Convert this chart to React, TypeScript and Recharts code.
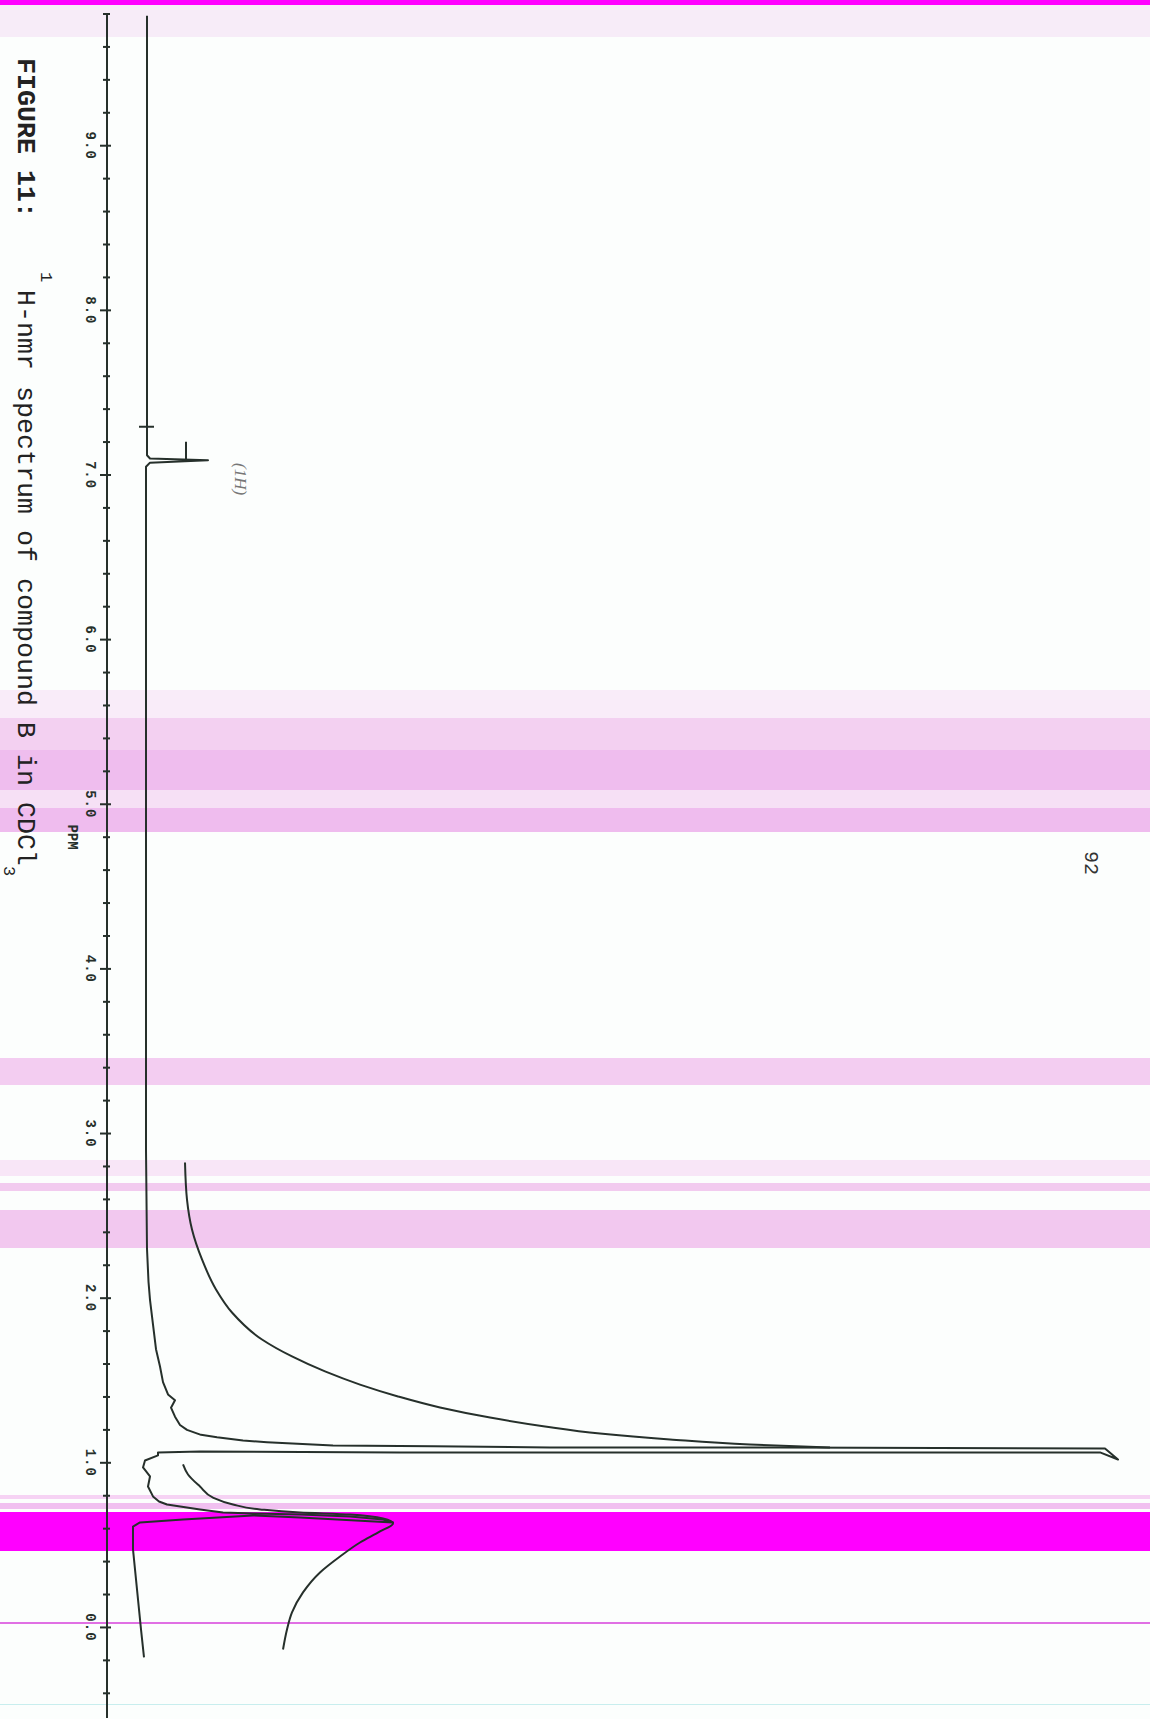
import React from 'react';
import { LineChart, Line, XAxis, YAxis } from 'recharts';

// spectrum traces as [ppm, intensity] pairs (intensity in chart-paper units)
const mainTrace: [number, number][] = [
  [9.79, 0], [7.12, 0], [7.1, 0.3], [7.09, 6.1], [7.075, 0.3], [7.05, -0.1],
  [2.9, -0.1], [2.3, 0], [2.1, 0.15], [1.99, 0.3], [1.89, 0.5], [1.69, 0.9], [1.585, 1.3],
  [1.49, 1.6], [1.415, 2.1], [1.38, 2.8], [1.335, 2.4], [1.28, 2.8], [1.23, 3.3], [1.2, 4.0],
  [1.17, 5.4], [1.155, 7.0], [1.135, 9.6], [1.125, 12.0], [1.105, 18.6], [1.1, 28.6], [1.093, 40.3],
  [1.093, 63.3], [1.087, 95.8], [1.02, 97.1], [1.063, 95.3], [1.063, 65.3],
  [1.063, 25.3], [1.069, 5.3], [1.063, 1.1], [1.045, 1.1], [1.014, -0.2],
  [0.972, -0.4], [0.917, 0.3], [0.856, 0.1], [0.796, 0.6], [0.765, 1.2], [0.747, 2.0],
  [0.717, 5.3], [0.698, 7.6], [0.692, 10.6], [0.686, 15.3], [0.674, 20.3],
  [0.656, 23.6], [0.638, 24.6], [0.668, 15.3], [0.68, 10.6], [0.656, 3.6],
  [0.638, -0.7], [0.613, -1.4], [0.474, -1.4], [0.17, -0.9], [-0.012, -0.6],
  [-0.182, -0.3],
];

const upperIntegral: [number, number][] = [
  [2.824, 3.8], [2.599, 4.0], [2.417, 4.5], [2.235, 5.5], [2.053, 6.9],
  [1.913, 8.5], [1.749, 11.5], [1.646, 14.5], [1.555, 17.8], [1.475, 21.3],
  [1.403, 25.1], [1.336, 29.3], [1.275, 34.3], [1.221, 39.8], [1.178, 45.3],
  [1.142, 52.3], [1.111, 60.3], [1.093, 68.3],
];

const lowerIntegral: [number, number][] = [
  [0.99, 3.6], [0.929, 4.1], [0.856, 5.3], [0.789, 6.6], [0.747, 8.6],
  [0.717, 11.3], [0.698, 15.3], [0.686, 20.3], [0.662, 23.6], [0.632, 24.6],
  [0.583, 23.3], [0.516, 21.3], [0.431, 19.3], [0.334, 17.3], [0.213, 15.6],
  [0.091, 14.5], [-0.012, 14.0], [-0.134, 13.6],
];

// little integral step marks next to the 7 ppm line
const stepMarks: [number, number][][] = [
  [[7.293, -0.8], [7.293, 0.7]],
  [[7.202, 3.9], [7.087, 3.9]],
];

const majorTicks = [9, 8, 7, 6, 5, 4, 3, 2, 1, 0];
const axisTicks = [
  9.8, 9.6, 9.4, 9.2, 9, 8.8, 8.6, 8.4, 8.2, 8, 7.8, 7.6, 7.4, 7.2, 7,
  6.8, 6.6, 6.4, 6.2, 6, 5.8, 5.6, 5.4, 5.2, 5, 4.8, 4.6, 4.4, 4.2, 4,
  3.8, 3.6, 3.4, 3.2, 3, 2.8, 2.6, 2.4, 2.2, 2, 1.8, 1.6, 1.4, 1.2, 1,
  0.8, 0.6, 0.4, 0.2, 0, -0.2, -0.4,
];

const ink = '#26302b';
const mono = '"Liberation Mono", "DejaVu Sans Mono", monospace';

// scan artefacts (page coordinates, after rotation)
const bands = [
  { top: 0, h: 5, c: '#ff00ff' },
  { top: 5, h: 32, c: '#f7ecf8' },
  { top: 690, h: 28, c: '#f9ecf9' },
  { top: 718, h: 32, c: '#f3d0f1' },
  { top: 750, h: 40, c: '#efbdee' },
  { top: 790, h: 18, c: '#f6e0f5' },
  { top: 808, h: 24, c: '#efbcee' },
  { top: 1058, h: 27, c: '#f3cdf1' },
  { top: 1160, h: 16, c: '#f8e6f7' },
  { top: 1183, h: 8, c: '#f2cbef' },
  { top: 1210, h: 38, c: '#f2c8ef' },
  { top: 1495, h: 4, c: '#f6d3f4' },
  { top: 1503, h: 6, c: '#f1c0f0' },
  { top: 1512, h: 39, c: '#ff00ff' },
  { top: 1622, h: 2, c: '#e070e4' },
  { top: 1704, h: 1, c: '#c8eeee' },
];

const toRows = (pts: [number, number][]) => pts.map(([ppm, v]) => ({ ppm, v }));

const PpmTick = (props: any) => {
  const { x, y, payload } = props;
  const v = payload.value as number;
  const major = majorTicks.some((m) => Math.abs(m - v) < 1e-6);
  return (
    <g>
      <line x1={x} x2={x} y1={y - (major ? 4 : 3)} y2={y + (major ? 7 : 4)} stroke={ink} strokeWidth={2} />
      {major && (
        <text x={x} y={y + 21} textAnchor="middle" fontFamily={mono} fontSize={14} fontWeight="bold" fill={ink} letterSpacing={1}>
          {v.toFixed(1)}
        </text>
      )}
    </g>
  );
};

const lineProps = {
  dataKey: 'v',
  stroke: ink,
  strokeWidth: 2,
  dot: false,
  activeDot: false,
  isAnimationActive: false,
  strokeLinejoin: 'round' as const,
};

export default function App() {
  return (
    <div style={{ position: 'absolute', left: 0, top: 0, width: 1150, height: 1719, overflow: 'hidden', background: '#fcfefd' }}>
      {bands.map((b, i) => (
        <div key={i} style={{ position: 'absolute', left: 0, top: b.top, width: 1150, height: b.h, background: b.c }} />
      ))}
      <div
        style={{
          position: 'absolute',
          left: 0,
          top: 0,
          width: 1719,
          height: 1150,
          transformOrigin: '0 0',
          transform: 'translateX(1150px) rotate(90deg)',
        }}
      >
        <LineChart width={1719} height={1150} margin={{ top: 3, right: 1, left: 14, bottom: 47 }}>
          <XAxis
            type="number"
            dataKey="ppm"
            domain={[-0.55, 9.8]}
            reversed
            allowDataOverflow
            ticks={axisTicks}
            interval={0}
            tickSize={0}
            tickMargin={0}
            tickLine={false}
            height={60}
            axisLine={{ stroke: ink, strokeWidth: 2 }}
            tick={PpmTick}
          />
          <YAxis type="number" domain={[-4, 100]} hide allowDataOverflow />
          <Line {...lineProps} type="linear" data={toRows(mainTrace)} />
          <Line {...lineProps} type="monotone" data={toRows(upperIntegral)} />
          <Line {...lineProps} type="monotone" data={toRows(lowerIntegral)} />
          {stepMarks.map((m, i) => (
            <Line key={i} {...lineProps} type="linear" data={toRows(m)} />
          ))}
        </LineChart>
        <svg width={1719} height={1150} style={{ position: 'absolute', left: 0, top: 0, pointerEvents: 'none' }}>
          <text x={837} y={1082} textAnchor="middle" fontFamily={mono} fontSize={14} fontWeight={600} fill={ink}>
            PPM
          </text>
          <text x={58} y={1132} fontFamily={mono} fontSize={26.67} fontWeight="bold" fill="#222">
            FIGURE 11:
          </text>
          <text x={272} y={1109} fontFamily={mono} fontSize={17} fill="#222">
            1
          </text>
          <text x={290} y={1132} fontFamily={mono} fontSize={26.67} fill="#222">
            H-nmr spectrum of compound B in CDCl
          </text>
          <text x={866} y={1146} fontFamily={mono} fontSize={17} fill="#222">
            3
          </text>
          <text x={851} y={65} fontFamily={mono} fontSize={20} fill="#333">
            92
          </text>
          <text x={463} y={915} fontFamily="Liberation Serif, serif" fontStyle="italic" fontSize={17} fill="#777">
            (1H)
          </text>
        </svg>
      </div>
    </div>
  );
}
